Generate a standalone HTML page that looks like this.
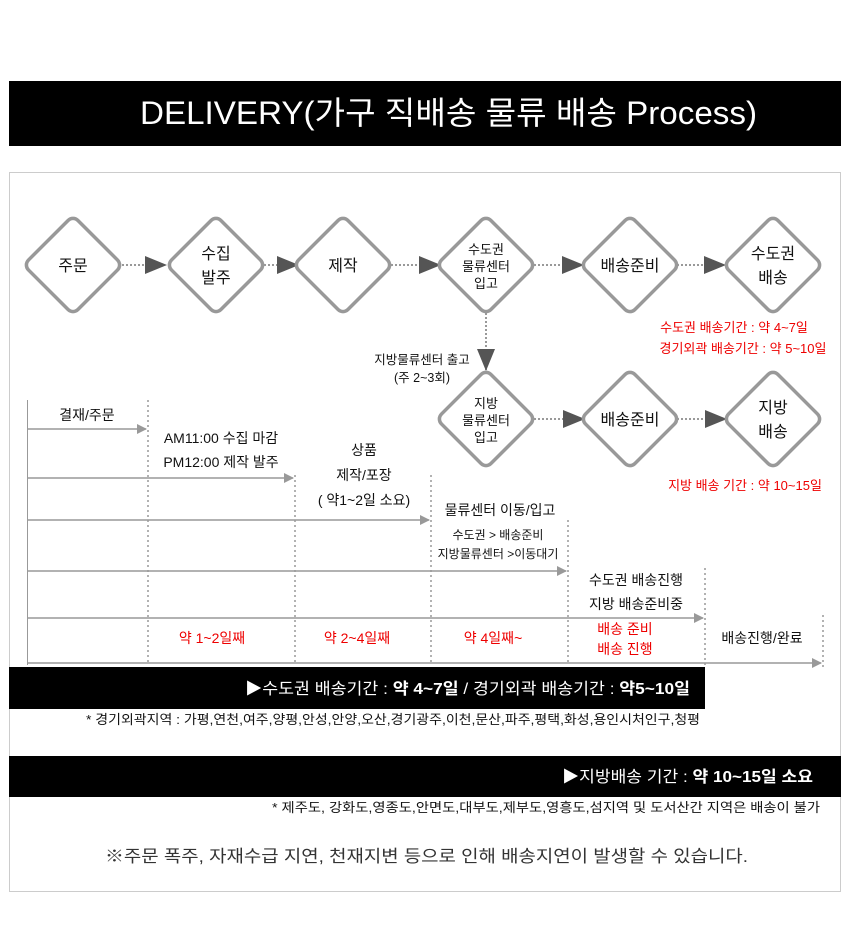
<!DOCTYPE html>
<html><head><meta charset="utf-8"><style>
body{margin:0;background:#fff;}
svg text{font-family:"Liberation Sans","Noto Sans CJK KR",sans-serif;}
</style></head><body>
<svg width="850" height="930" viewBox="0 0 850 930" xmlns="http://www.w3.org/2000/svg">
<defs>
<marker id="ah" markerWidth="10" markerHeight="10" refX="9" refY="5" orient="auto" markerUnits="userSpaceOnUse"><path d="M0,0 L10,5 L0,10 z" fill="#999"/></marker>
<marker id="big" markerWidth="22" markerHeight="18" refX="21" refY="9" orient="auto" markerUnits="userSpaceOnUse"><path d="M0,0 L22,9 L0,18 z" fill="#555"/></marker>
<g id="dm"><rect x="-35" y="-35" width="70" height="70" rx="7" transform="rotate(45)" fill="#fff" stroke="#999" stroke-width="3.5"/></g>
</defs>
<rect x="9" y="81" width="832" height="65" fill="#000"/>
<text x="140" y="124" fill="#fff" font-size="32" textLength="617" lengthAdjust="spacingAndGlyphs">DELIVERY(가구 직배송 물류 배송 Process)</text>
<rect x="9.5" y="172.5" width="831" height="719" fill="none" stroke="#ccc"/>
<g stroke="#999" stroke-width="2" stroke-dasharray="2,2" fill="none">
<line x1="122" y1="265" x2="166" y2="265" marker-end="url(#big)"/>
<line x1="264" y1="265" x2="298" y2="265" marker-end="url(#big)"/>
<line x1="391" y1="265" x2="440" y2="265" marker-end="url(#big)"/>
<line x1="534" y1="265" x2="583" y2="265" marker-end="url(#big)"/>
<line x1="677" y1="265" x2="725" y2="265" marker-end="url(#big)"/>
<line x1="486" y1="313" x2="486" y2="370" marker-end="url(#big)"/>
<line x1="534" y1="419" x2="584" y2="419" marker-end="url(#big)"/>
<line x1="677" y1="419" x2="726" y2="419" marker-end="url(#big)"/>
</g>
<use href="#dm" x="73" y="265"/><use href="#dm" x="216" y="265"/><use href="#dm" x="343" y="265"/>
<use href="#dm" x="486" y="265"/><use href="#dm" x="630" y="265"/><use href="#dm" x="773" y="265"/>
<use href="#dm" x="486" y="419"/><use href="#dm" x="630" y="419"/><use href="#dm" x="773" y="419"/>
<g font-size="16" text-anchor="middle" fill="#111">
<text x="73" y="271">주문</text>
<text x="216" y="259">수집</text><text x="216" y="283">발주</text>
<text x="343" y="271">제작</text>
<text x="486" y="254" font-size="13">수도권</text><text x="486" y="271" font-size="13">물류센터</text><text x="486" y="288" font-size="13">입고</text>
<text x="630" y="271">배송준비</text>
<text x="773" y="259">수도권</text><text x="773" y="283">배송</text>
<text x="486" y="408" font-size="13">지방</text><text x="486" y="425" font-size="13">물류센터</text><text x="486" y="442" font-size="13">입고</text>
<text x="630" y="425">배송준비</text>
<text x="773" y="413">지방</text><text x="773" y="437">배송</text>
</g>
<g font-size="12.5" fill="#111" text-anchor="middle">
<text x="422" y="364">지방물류센터 출고</text><text x="422" y="382">(주 2~3회)</text>
</g>
<g font-size="13" fill="#e00" text-anchor="middle">
<text x="734" y="332">수도권 배송기간 : 약 4~7일</text>
<text x="743" y="353">경기외곽 배송기간 : 약 5~10일</text>
<text x="745" y="490">지방 배송 기간 : 약 10~15일</text>
</g>
<line x1="27.5" y1="400" x2="27.5" y2="665" stroke="#999"/>
<g stroke="#999" stroke-dasharray="2,3" stroke-width="1.5">
<line x1="148" y1="400" x2="148" y2="665"/><line x1="295" y1="475" x2="295" y2="665"/>
<line x1="431" y1="475" x2="431" y2="665"/><line x1="568" y1="520" x2="568" y2="665"/>
<line x1="705" y1="568" x2="705" y2="665"/><line x1="823" y1="615" x2="823" y2="668"/>
</g>
<g stroke="#999" stroke-width="1.5">
<line x1="27" y1="429" x2="146" y2="429" marker-end="url(#ah)"/>
<line x1="27" y1="478" x2="293" y2="478" marker-end="url(#ah)"/>
<line x1="27" y1="520" x2="429" y2="520" marker-end="url(#ah)"/>
<line x1="27" y1="571" x2="566" y2="571" marker-end="url(#ah)"/>
<line x1="27" y1="618" x2="703" y2="618" marker-end="url(#ah)"/>
<line x1="27" y1="663" x2="821" y2="663" marker-end="url(#ah)"/>
</g>
<g font-size="14" fill="#111" text-anchor="middle">
<text x="87" y="420">결재/주문</text>
<text x="221" y="443">AM11:00 수집 마감</text><text x="221" y="467">PM12:00 제작 발주</text>
<text x="364" y="455">상품</text><text x="364" y="480">제작/포장</text><text x="364" y="505">( 약1~2일 소요)</text>
<text x="500" y="515">물류센터 이동/입고</text>
<text x="498" y="539" font-size="12">수도권 &gt; 배송준비</text><text x="498" y="558" font-size="12">지방물류센터 &gt;이동대기</text>
<text x="636" y="585">수도권 배송진행</text><text x="636" y="609">지방 배송준비중</text>
<text x="762" y="643">배송진행/완료</text>
</g>
<g font-size="14" fill="#e00" text-anchor="middle">
<text x="212" y="643">약 1~2일째</text><text x="357" y="643">약 2~4일째</text><text x="493" y="643">약 4일째~</text>
<text x="625" y="634">배송 준비</text><text x="625" y="654">배송 진행</text>
</g>
<rect x="9" y="667" width="696" height="42" fill="#000"/>
<text x="245" y="694" fill="#fff" font-size="16" textLength="445" lengthAdjust="spacingAndGlyphs">▶수도권 배송기간 : <tspan font-weight="bold">약 4~7일</tspan> / 경기외곽 배송기간 : <tspan font-weight="bold">약5~10일</tspan></text>
<text x="86" y="724" font-size="13" fill="#111" textLength="614" lengthAdjust="spacingAndGlyphs">* 경기외곽지역 : 가평,연천,여주,양평,안성,안양,오산,경기광주,이천,문산,파주,평택,화성,용인시처인구,청평</text>
<rect x="9" y="756" width="832" height="41" fill="#000"/>
<text x="562" y="782" fill="#fff" font-size="16" textLength="251" lengthAdjust="spacingAndGlyphs">▶지방배송 기간 : <tspan font-weight="bold">약 10~15일 소요</tspan></text>
<text x="272" y="812" font-size="13" fill="#111" textLength="548" lengthAdjust="spacingAndGlyphs">* 제주도, 강화도,영종도,안면도,대부도,제부도,영흥도,섬지역 및 도서산간 지역은 배송이 불가</text>
<text x="105" y="862" font-size="17" fill="#333" textLength="643" lengthAdjust="spacingAndGlyphs">※주문 폭주, 자재수급 지연, 천재지변 등으로 인해 배송지연이 발생할 수 있습니다.</text>
</svg>
</body></html>
